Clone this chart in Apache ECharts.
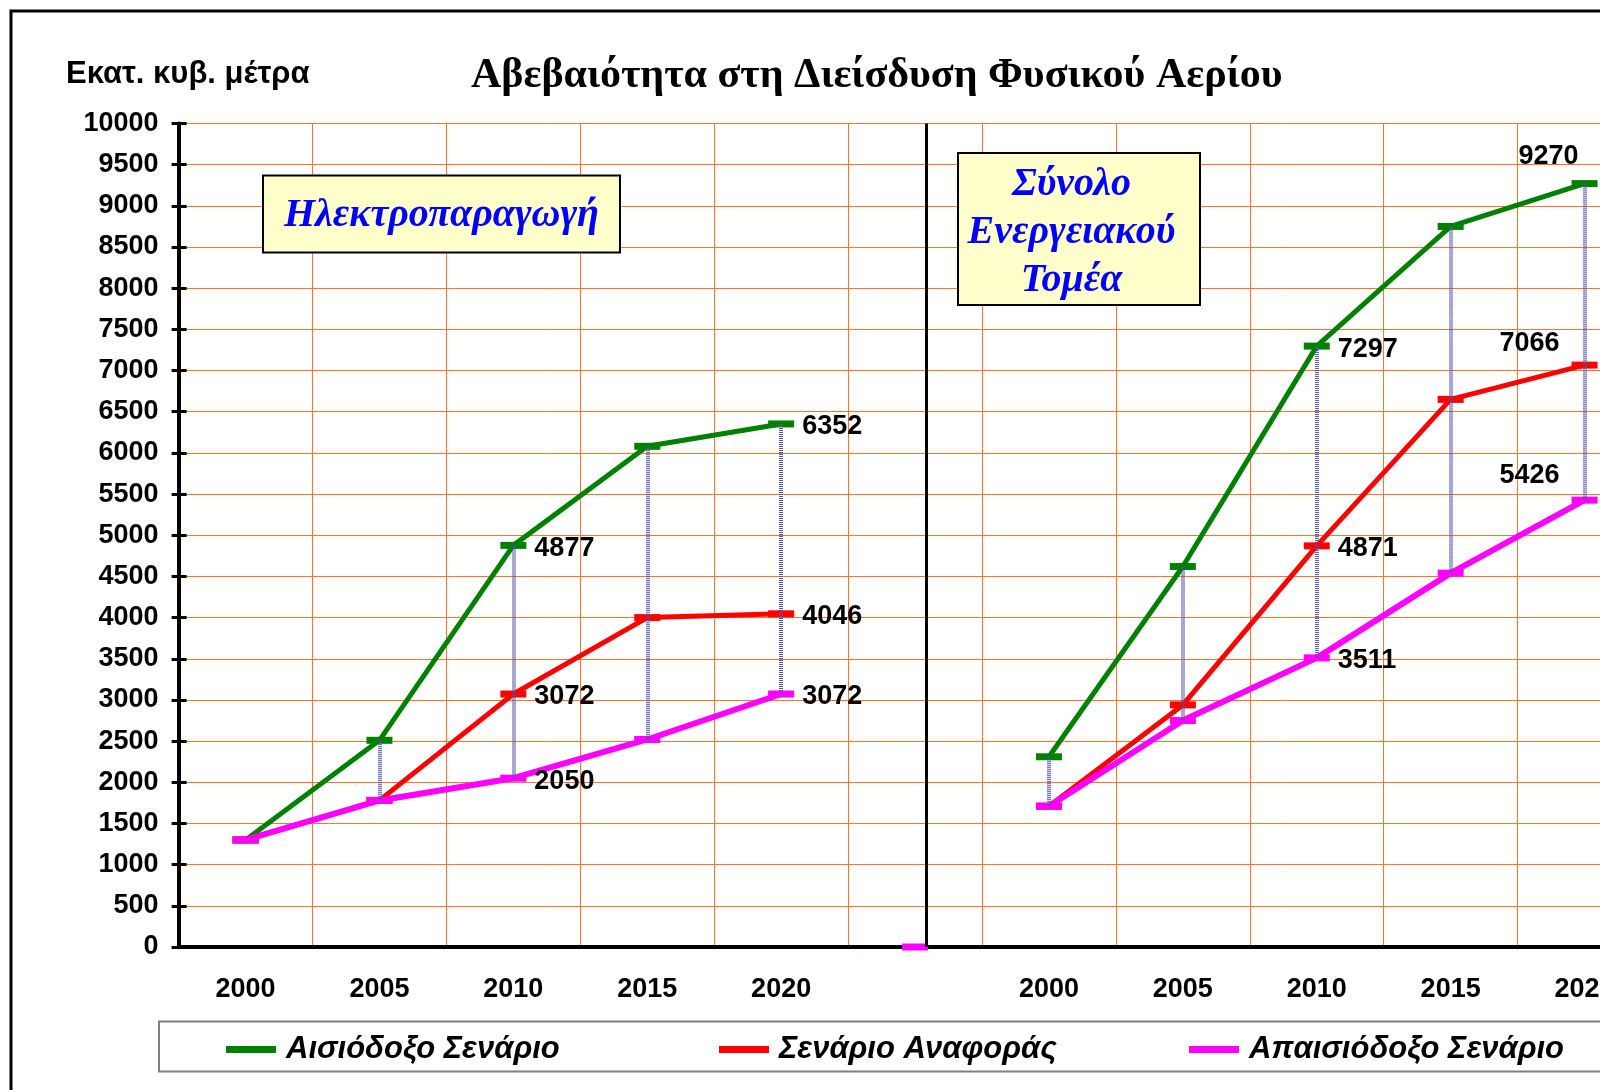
<!DOCTYPE html>
<html>
<head>
<meta charset="utf-8">
<title>Αβεβαιότητα στη Διείσδυση Φυσικού Αερίου</title>
<script src="https://cdn.jsdelivr.net/npm/echarts@6/dist/echarts.min.js"></script>
<style>
  html, body { margin: 0; padding: 0; background: #ffffff; overflow: hidden; }
  /* the original chart runs off the right edge, so the canvas is wider than the window */
  #myChart1 { width: 1660px; height: 1090px; }
</style>
</head>
<body>
<div id="myChart1"></div>
<script>
// left half: Ηλεκτροπαραγωγή, right half: Σύνολο Ενεργειακού Τομέα (blank slot between them)
var years = ['2000', '2005', '2010', '2015', '2020', '', '2000', '2005', '2010', '2015', '2020'];
var optimistic  = [1300, 2510, 4877, 6080, 6352, null, 2310, 4620, 7297, 8750, 9270];
var reference   = [1300, 1780, 3072, 4000, 4046, null, 1710, 2940, 4871, 6650, 7066];
var pessimistic = [1300, 1780, 2050, 2520, 3072, null, 1710, 2750, 3511, 4540, 5426];
// the lone point sitting on the axis in the blank slot
var pessimisticGap = [null, null, null, null, null, 0, null, null, null, null, null];
var seriesNames = ['Αισιόδοξο Σενάριο', 'Σενάριο Αναφοράς', 'Απαισιόδοξο Σενάριο'];
var colors = ['#008000', '#FF0000', '#FF00FF'];

var arial = 'Arial, "Liberation Sans", sans-serif';
var times = '"Times New Roman", "Liberation Serif", serif';

var labelFont = { color: '#000', fontFamily: arial, fontWeight: 'bold', fontSize: 27 };

function labelRight() {
  return Object.assign({ show: true, position: 'right', distance: 8, offset: [0, 3] }, labelFont);
}
function labelAt(dx, dy) {
  return Object.assign({ show: true, position: 'inside', offset: [dx, dy] }, labelFont);
}

// which points carry a value label, and where
var labelsOpt = { 2: labelRight(), 4: labelRight(), 8: labelRight(), 10: labelAt(-36, -27) };
var labelsRef = { 2: labelRight(), 4: labelRight(), 8: labelRight(), 10: labelAt(-55, -22) };
var labelsPes = { 2: labelRight(), 4: labelRight(), 8: labelRight(), 10: labelAt(-55, -25) };

function withLabels(values, labels) {
  return values.map(function (v, i) {
    return labels[i] ? { value: v, label: labels[i] } : v;
  });
}

// high-low lines between optimistic and pessimistic
var hiLo = [];
optimistic.forEach(function (v, i) {
  if (v != null && pessimistic[i] != null && v > pessimistic[i]) {
    hiLo.push([{ coord: [i, v] }, { coord: [i, pessimistic[i]] }]);
  }
});

function lineSeries(name, data, color, width) {
  return {
    name: name,
    type: 'line',
    data: data,
    connectNulls: false,
    showAllSymbol: true,
    symbol: 'rect',
    symbolSize: [26, 7],
    itemStyle: { color: color },
    lineStyle: { color: color, width: width },
    z: 3
  };
}

let myChart = echarts.init(document.getElementById('myChart1'), null, { renderer: 'canvas' });

let option = {
  animation: false,
  backgroundColor: '#ffffff',
  title: [
    {
      text: 'Αβεβαιότητα στη Διείσδυση Φυσικού Αερίου',
      left: 471, top: 55, padding: 0,
      textStyle: { fontFamily: times, fontWeight: 'bold', fontSize: 42, color: '#000' }
    },
    {
      text: 'Εκατ. κυβ. μέτρα',
      left: 66, top: 59, padding: 0,
      textStyle: { fontFamily: arial, fontWeight: 'bold', fontSize: 31, color: '#000' }
    }
  ],
  legend: seriesNames.map(function (n, i) {
    return {
      data: [n],
      left: [226, 719, 1189][i],
      top: 1034,
      padding: 0,
      icon: 'rect',
      itemWidth: 50,
      itemHeight: 7,
      selectedMode: false,
      textStyle: { fontFamily: arial, fontWeight: 'bold', fontStyle: 'italic', fontSize: 31, color: '#000', padding: [0, 0, 0, 5] }
    };
  }),
  grid: { left: 178.6, top: 123.5, width: 11 * 133.9, height: 823.5, containLabel: false },
  xAxis: [
    {
      type: 'category',
      data: years,
      position: 'bottom',
      boundaryGap: true,
      axisLine: { lineStyle: { color: '#000', width: 4 } },
      axisTick: { interval: 0, length: 7, lineStyle: { color: '#000', width: 3 } },
      axisLabel: { interval: 0, margin: 29, color: '#000', fontFamily: arial, fontWeight: 'bold', fontSize: 27 },
      splitLine: { show: true, interval: 0, lineStyle: { color: '#FF7426', width: 1 } }
    },
    {
      // inner half of the crossing ticks
      type: 'category',
      data: years,
      position: 'bottom',
      boundaryGap: true,
      axisLine: { show: false },
      axisTick: { interval: 0, inside: true, length: 9, lineStyle: { color: '#000', width: 3 } },
      axisLabel: { show: false },
      splitLine: { show: false }
    },
    {
      // plain 0..11 scale used only for the divider between the two panels
      type: 'value', min: 0, max: 11, show: false, position: 'bottom'
    }
  ],
  yAxis: [
    {
      type: 'value',
      min: 0, max: 10000, interval: 500,
      position: 'left',
      axisLine: { show: true, lineStyle: { color: '#000', width: 4 } },
      axisTick: { show: true, length: 7, lineStyle: { color: '#000', width: 3 } },
      axisLabel: {
        margin: 20, color: '#000', fontFamily: arial, fontWeight: 'bold', fontSize: 27,
        formatter: function (v) { return String(v); }
      },
      splitLine: { show: true, lineStyle: { color: '#FF7426', width: 1 } }
    },
    {
      type: 'value',
      min: 0, max: 10000, interval: 500,
      position: 'left',
      axisLine: { show: false },
      axisTick: { show: true, inside: true, length: 8, lineStyle: { color: '#000', width: 3 } },
      axisLabel: { show: false },
      splitLine: { show: false }
    }
  ],
  series: [
    {
      name: 'hiLo',
      type: 'line',
      data: [],
      markLine: {
        silent: true,
        symbol: ['none', 'none'],
        label: { show: false },
        lineStyle: { color: '#5252A8', width: 4, type: [1, 1] },
        data: hiLo
      },
      z: 2
    },
    {
      name: 'divider',
      type: 'line',
      xAxisIndex: 2,
      data: [],
      markLine: {
        silent: true,
        symbol: ['none', 'none'],
        label: { show: false },
        lineStyle: { color: '#000', width: 3, type: 'solid' },
        data: [{ xAxis: 5.58 }]
      }
    },
    lineSeries(seriesNames[0], withLabels(optimistic, labelsOpt), colors[0], 5),
    lineSeries(seriesNames[1], withLabels(reference, labelsRef), colors[1], 5),
    lineSeries(seriesNames[2], withLabels(pessimistic, labelsPes), colors[2], 6),
    lineSeries(seriesNames[2], pessimisticGap, colors[2], 6)
  ],
  graphic: [
    // outer frame
    { type: 'rect', shape: { x: 11, y: 11, width: 1700, height: 1200 }, style: { fill: 'none', stroke: '#000', lineWidth: 3 }, z: 10 },
    // legend frame
    { type: 'rect', shape: { x: 159, y: 1021.5, width: 1550, height: 50 }, style: { fill: 'none', stroke: '#808080', lineWidth: 2 }, z: 10 },
    // panel captions
    { type: 'rect', shape: { x: 263, y: 175.5, width: 357, height: 77 }, style: { fill: '#FFFFCC', stroke: '#000', lineWidth: 2 }, z: 10 },
    {
      type: 'text', z: 11,
      style: { text: 'Ηλεκτροπαραγωγή', x: 441.5, y: 216, textAlign: 'center', textVerticalAlign: 'middle',
               font: 'italic bold 40px ' + times, fill: '#0000FF' }
    },
    { type: 'rect', shape: { x: 958, y: 153, width: 242, height: 152 }, style: { fill: '#FFFFCC', stroke: '#000', lineWidth: 2 }, z: 10 },
    {
      type: 'text', z: 11,
      style: { text: 'Σύνολο\nΕνεργειακού\nΤομέα', x: 1071.5, y: 233, textAlign: 'center', textVerticalAlign: 'middle',
               lineHeight: 48, font: 'italic bold 40px ' + times, fill: '#0000FF' }
    }
  ]
};

myChart.setOption(option, true);
</script>
</body>
</html>
